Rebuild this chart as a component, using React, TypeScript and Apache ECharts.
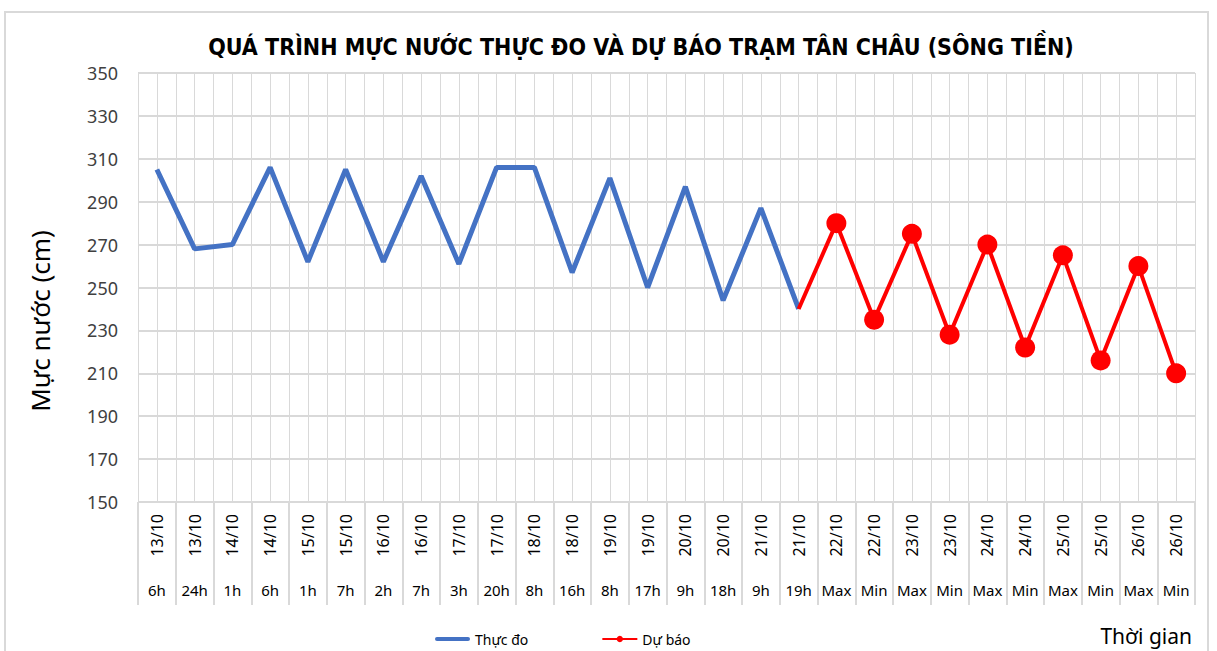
import React, { useEffect, useRef } from "react";
import * as echarts from "echarts";

const dates = ["13/10","13/10","14/10","14/10","15/10","15/10","16/10","16/10","17/10","17/10","18/10","18/10","19/10","19/10","20/10","20/10","21/10","21/10","22/10","22/10","23/10","23/10","24/10","24/10","25/10","25/10","26/10","26/10"];
const hours = ["6h","24h","1h","6h","1h","7h","2h","7h","3h","20h","8h","16h","8h","17h","9h","18h","9h","19h","Max","Min","Max","Min","Max","Min","Max","Min","Max","Min"];
const observed = [305, 268, 270, 306, 262, 305, 262, 302, 261, 306, 306, 257, 301, 250, 297, 244, 287, 240];
const forecastStart = 240;
const forecast = [280, 235, 275, 228, 270, 222, 265, 216, 260, 210];
const yTicks = { min: 150, max: 350, interval: 20 };

const FONT = "'Noto Sans', 'Open Sans', sans-serif";
const NARROW = "'Liberation Sans Narrow', 'DejaVu Sans Condensed', 'Noto Sans', sans-serif";

export default function App() {
  const ref = useRef<HTMLDivElement>(null);
  useEffect(() => {
    document.body.style.margin = "0";
    const chart = echarts.init(ref.current!, null, { renderer: "svg" });
    const redData: any[] = dates.map(() => null);
    redData[observed.length - 1] = { value: forecastStart, symbol: "none" };
    forecast.forEach((v, i) => (redData[observed.length + i] = v));
    const grid = "#d9d9d9";
    chart.setOption({
      animation: false,
      backgroundColor: "#fff",
      grid: { left: 138, right: 22, top: 73, bottom: 149, containLabel: false },
      graphic: [
        { type: "rect", shape: { x: 5, y: 12, width: 1203, height: 660 }, style: { fill: "none", stroke: "#d9d9d9", lineWidth: 2 }, silent: true },
        { type: "text", x: 641, y: 47, style: { text: "QUÁ TRÌNH MỰC NƯỚC THỰC ĐO VÀ DỰ BÁO TRẠM TÂN CHÂU (SÔNG TIỀN)", font: `bold 23px ${NARROW}`, fill: "#000", align: "center", verticalAlign: "middle" } },
        { type: "text", x: 40, y: 321, rotation: Math.PI / 2, style: { text: "Mực nước (cm)", font: `26px ${FONT}`, fill: "#000", align: "center", verticalAlign: "middle" } },
        { type: "text", x: 1192, y: 636, style: { text: "Thời gian", font: `21px ${FONT}`, fill: "#000", align: "right", verticalAlign: "middle" } },
      ],
      legend: {
        left: 430, top: 627, itemWidth: 35, itemHeight: 8, itemGap: 73,
        textStyle: { fontFamily: FONT, fontSize: 14, color: "#000" },
        data: [
          { name: "Thực đo", icon: "path://M2,0 L33,0 A2,2 0 0 1 33,4 L2,4 A2,2 0 0 1 2,0 Z", itemStyle: { color: "#4472C4" } },
          { name: "Dự báo" },
        ],
      },
      xAxis: [
        {
          type: "category", data: dates, position: "bottom",
          axisLine: { show: true, lineStyle: { color: grid, width: 1 } },
          axisTick: { show: true, interval: 0, length: 103, lineStyle: { color: grid, width: 2 } },
          axisLabel: { interval: 0, rotate: 90, margin: 12, fontFamily: FONT, fontSize: 16, color: "#000" },
          splitLine: { show: false },
        },
        {
          type: "category", data: hours, position: "bottom",
          axisLine: { show: false }, axisTick: { show: false },
          axisLabel: { interval: 0, margin: 80, fontFamily: FONT, fontSize: 15, color: "#000" },
          splitLine: { show: false },
        },
        {
          type: "value", min: 0, max: 56, interval: 1, position: "top",
          axisLine: { show: false }, axisTick: { show: false }, axisLabel: { show: false },
          splitLine: { show: true, lineStyle: { color: grid, width: 1 } },
        },
      ],
      yAxis: {
        type: "value", min: yTicks.min, max: yTicks.max, interval: yTicks.interval,
        axisLine: { show: true, lineStyle: { color: grid } },
        axisTick: { show: false },
        axisLabel: { margin: 20, fontFamily: FONT, fontSize: 18, color: "#404040" },
        splitLine: { show: true, lineStyle: { color: grid, width: 2 } },
      },
      series: [
        {
          name: "Thực đo", type: "line", xAxisIndex: 0, data: observed,
          symbol: "none", lineStyle: { color: "#4472C4", width: 5 }, itemStyle: { color: "#4472C4" },
          z: 3,
        },
        {
          name: "Dự báo", type: "line", xAxisIndex: 0, data: redData,
          symbol: "circle", symbolSize: 20, connectNulls: false,
          lineStyle: { color: "#FF0000", width: 4 }, itemStyle: { color: "#FF0000" },
          z: 4,
        },
      ],
    });
    return () => chart.dispose();
  }, []);
  return <div ref={ref} style={{ width: 1217, height: 651 }} />;
}
